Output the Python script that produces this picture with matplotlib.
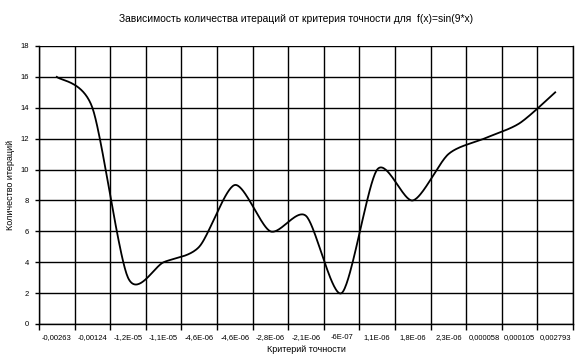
import matplotlib
matplotlib.use("Agg")
import matplotlib.pyplot as plt
import numpy as np

plt.rcParams['font.family'] = ['Liberation Sans', 'DejaVu Sans']

# данные (категориальная ось, как в Excel)
eps_labels = ["-0,00263", "-0,00124", "-1,2E-05", "-1,1E-05", "-4,6E-06",
              "-4,6E-06", "-2,8E-06", "-2,1E-06", "-6E-07", "1,1E-06",
              "1,8E-06", "2,3E-06", "0,000058", "0,000105", "0,002793"]
iterations = [16, 14, 3, 4, 5, 9, 6, 7, 2, 10, 8, 11, 12, 13, 15]
y_ticks = [0, 2, 4, 6, 8, 10, 12, 14, 16, 18]


#сглаженная линия (Безье, как "сглаженная линия" в Excel)
def smooth(xs, ys, n=40, k=1 / 7.5):
    xs = np.asarray(xs, float)
    ys = np.asarray(ys, float)
    px = np.concatenate([[xs[0]], xs, [xs[-1]]])
    py = np.concatenate([[ys[0]], ys, [ys[-1]]])
    outx, outy = [], []
    t = np.linspace(0, 1, n)
    for i in range(1, len(px) - 2):
        p0 = np.array([px[i], py[i]])
        p3 = np.array([px[i + 1], py[i + 1]])
        c1 = p0 + (np.array([px[i + 1], py[i + 1]]) - np.array([px[i - 1], py[i - 1]])) * k
        c2 = p3 - (np.array([px[i + 2], py[i + 2]]) - np.array([px[i], py[i]])) * k
        b = ((1 - t) ** 3)[:, None] * p0 + (3 * (1 - t) ** 2 * t)[:, None] * c1 \
            + (3 * (1 - t) * t ** 2)[:, None] * c2 + (t ** 3)[:, None] * p3
        outx.extend(b[:, 0])
        outy.extend(b[:, 1])
    return np.array(outx), np.array(outy)


fig = plt.figure(figsize=(5.82, 3.63), dpi=100)
ax = fig.add_axes([39 / 582, (363 - 324) / 363, (573 - 39) / 582, (324 - 46) / 363])

pos = np.arange(len(iterations))
sx, sy = smooth(pos, iterations)
ax.plot(sx, sy, color="black", lw=1.3, solid_joinstyle="round", zorder=3)

ax.set_xlim(-0.5, len(iterations) - 0.5)
ax.set_ylim(0, 18)
ax.set_yticks(y_ticks)
ax.set_yticklabels([str(v) for v in y_ticks], fontsize=5.5)
ax.set_xticks(pos)
ax.set_xticklabels(eps_labels, fontsize=5.5)
ax.set_xticks(np.arange(-0.5, len(iterations)), minor=True)
ax.tick_params(axis="x", which="major", length=0, pad=7)
ax.tick_params(axis="x", which="minor", length=4, width=1, color="black")
ax.tick_params(axis="y", length=3, width=1, pad=4)

ax.grid(True, axis="y", color="black", lw=1)
ax.grid(True, axis="x", which="minor", color="black", lw=1)
ax.set_axisbelow(True)
for s in ["left", "bottom", "right"]:
    ax.spines[s].set_color("black")
    ax.spines[s].set_linewidth(1)
ax.spines["top"].set_visible(False)

fig.text(0.508, 1 - 19 / 363, "Зависимость количества итераций от критерия точности для  f(x)=sin(9*x)",
         ha="center", va="center", fontsize=7.4)
ax.set_xlabel("Критерий точности", fontsize=6.5, labelpad=3)
ax.set_ylabel("Количество итераций", fontsize=6.5, labelpad=2)
ax.yaxis.set_label_coords(-(39 - 15) / 534, 0.5)

fig.savefig("out.png", dpi=100)
